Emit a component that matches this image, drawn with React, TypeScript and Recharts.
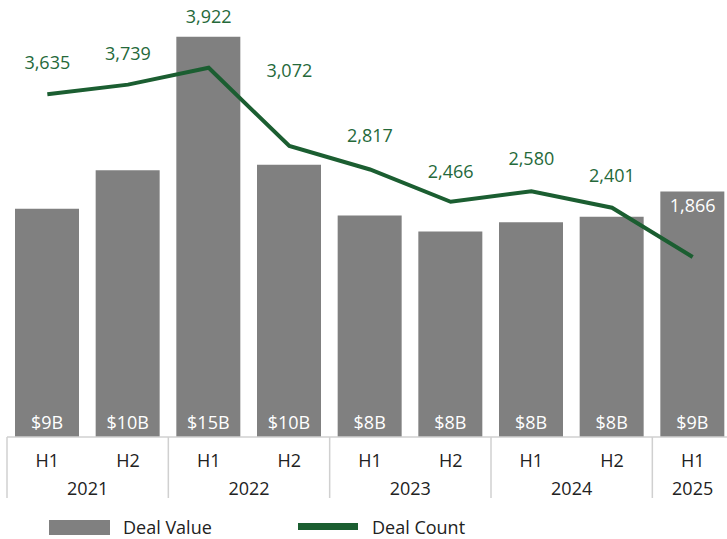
import { ComposedChart, Bar, Line, XAxis, YAxis, Legend, LabelList } from "recharts";

const periods = ["H1", "H2", "H1", "H2", "H1", "H2", "H1", "H2", "H1"];
const years = ["2021", "2021", "2022", "2022", "2023", "2023", "2024", "2024", "2025"];
const dealValue = [8.55, 10.0, 15.0, 10.2, 8.3, 7.7, 8.05, 8.25, 9.2];
const dealValueLabels = ["$9B", "$10B", "$15B", "$10B", "$8B", "$8B", "$8B", "$8B", "$9B"];
const dealCount = [3635, 3739, 3922, 3072, 2817, 2466, 2580, 2401, 1866];

const data = periods.map((p, i) => ({
  key: `${years[i]} ${p}`,
  period: p,
  year: years[i],
  value: dealValue[i],
  count: dealCount[i],
}));

const W = 733;
const H = 539;
const M = { top: 10, right: 0, left: 7, bottom: 0 };
const CW = (W - M.left - M.right) / data.length;
const FONT = "'Open Sans', sans-serif";
const FS = 18;
const GRAY = "#808080";
const GREEN = "#1b5e31";
const LABEL_GREEN = "#25693a";
const GRID = "#d0d0d0";

// how far each count label sits above its point (some are nudged off the bars)
const countLift = [32, 32, 52, 76, 34, 31, 33, 33, 52];

const AxisTick = (props: any) => {
  const { x, y, payload } = props;
  const i = payload.index;
  const first = i === 0 || years[i] !== years[i - 1];
  const span = years.filter((yr) => yr === years[i]).length * CW;
  const left = x - CW / 2;
  return (
    <g>
      <text x={x} y={y + 23} textAnchor="middle" dominantBaseline="central" fontSize={FS} fill="#222" fontFamily={FONT}>
        {periods[i]}
      </text>
      {first && (
        <>
          <line x1={left} x2={left} y1={y} y2={y + 61} stroke={GRID} strokeWidth={1.5} />
          <text x={left + span / 2} y={y + 51} textAnchor="middle" dominantBaseline="central" fontSize={FS} fill="#222" fontFamily={FONT}>
            {years[i]}
          </text>
        </>
      )}
      {i === data.length - 1 && (
        <line x1={x + CW / 2} x2={x + CW / 2} y1={y} y2={y + 61} stroke={GRID} strokeWidth={1.5} />
      )}
    </g>
  );
};

const BarLabel = (props: any) => {
  const { x, y, width, height, index } = props;
  return (
    <text x={x + width / 2} y={y + height - 15} textAnchor="middle" dominantBaseline="central" fontSize={FS} fill="#fff" fontFamily={FONT}>
      {dealValueLabels[index]}
    </text>
  );
};

const CountLabel = (props: any) => {
  const { x, y, index } = props;
  const onBar = index === dealCount.length - 1;
  return (
    <text x={x} y={y - countLift[index]} textAnchor="middle" dominantBaseline="central" fontSize={FS} fill={onBar ? "#fff" : LABEL_GREEN} fontFamily={FONT}>
      {dealCount[index].toLocaleString("en-US")}
    </text>
  );
};

const LegendBox = () => (
  <div style={{ position: "relative", height: 40, fontFamily: FONT, fontSize: FS, color: "#222" }}>
    <div style={{ position: "absolute", left: 49, top: 21, width: 61, height: 15, background: GRAY }} />
    <div style={{ position: "absolute", left: 123, top: 16, lineHeight: "24px" }}>Deal Value</div>
    <div style={{ position: "absolute", left: 298, top: 24, width: 60, height: 7, background: GREEN }} />
    <div style={{ position: "absolute", left: 372, top: 16, lineHeight: "24px" }}>Deal Count</div>
  </div>
);

export default function App() {
  return (
    <div style={{ position: "absolute", left: 0, top: 0, width: 727, height: 539, overflow: "hidden", background: "#fff" }}>
      <ComposedChart width={W} height={H} data={data} margin={M}>
        <XAxis
          dataKey="key"
          interval={0}
          height={62}
          tickLine={false}
          tickSize={0}
          tickMargin={0}
          axisLine={{ stroke: GRID, strokeWidth: 1.5 }}
          tick={<AxisTick />}
        />
        <YAxis yAxisId="v" hide domain={[0, 16]} />
        <YAxis yAxisId="c" orientation="right" hide domain={[-90, 4550]} />
        <Legend verticalAlign="bottom" height={40} content={<LegendBox />} wrapperStyle={{ left: 0, bottom: 0, width: W, height: 40 }} />
        <Bar yAxisId="v" dataKey="value" fill={GRAY} barSize={64} isAnimationActive={false}>
          <LabelList dataKey="value" content={<BarLabel />} />
        </Bar>
        <Line
          yAxisId="c"
          dataKey="count"
          type="linear"
          stroke={GREEN}
          strokeWidth={4}
          dot={false}
          isAnimationActive={false}
        >
          <LabelList dataKey="count" content={<CountLabel />} />
        </Line>
      </ComposedChart>
    </div>
  );
}
